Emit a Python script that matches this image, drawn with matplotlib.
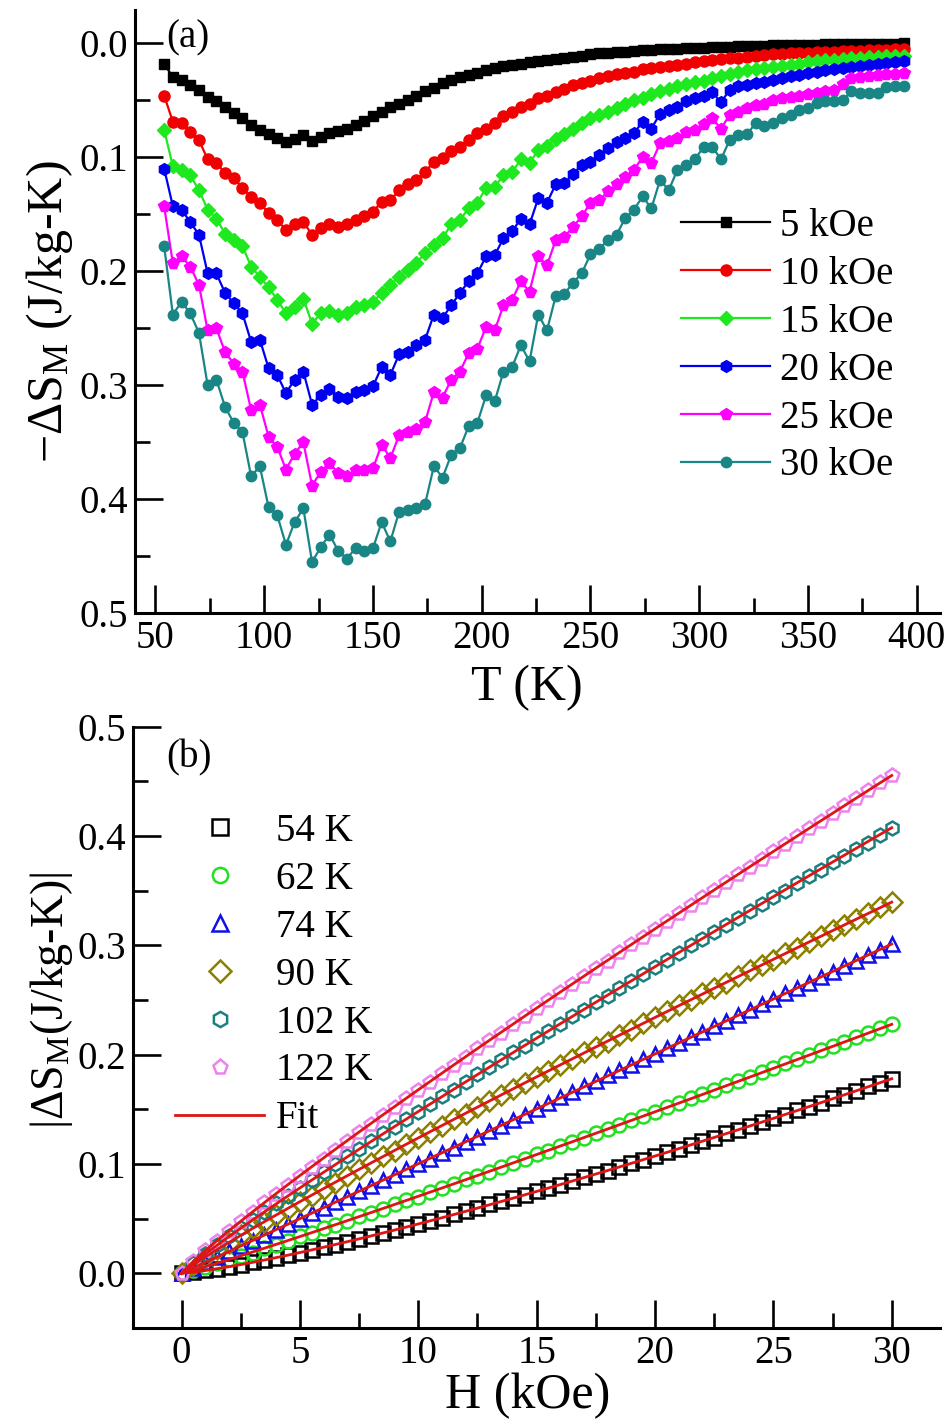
import matplotlib
matplotlib.use('Agg')
import matplotlib.pyplot as plt
import numpy as np
from matplotlib.ticker import FixedLocator, FormatStrFormatter

plt.rcParams['font.family'] = ['Liberation Serif', 'DejaVu Serif']
plt.rcParams['mathtext.default'] = 'regular'

# ---------------- Panel (a) data: -dS_M vs T ----------------
T_K = np.arange(54, 395, 4)  # 54 ... 394 K

dS_5kOe = [
    0.018, 0.030, 0.032, 0.037, 0.041, 0.047, 0.051, 0.056, 0.061, 0.066,
    0.072, 0.076, 0.080, 0.083, 0.087, 0.084, 0.081, 0.086, 0.082, 0.079,
    0.077, 0.075, 0.072, 0.068, 0.064, 0.060, 0.056, 0.053, 0.050, 0.046,
    0.042, 0.039, 0.035, 0.032, 0.030, 0.028, 0.026, 0.024, 0.022, 0.020,
    0.019, 0.018, 0.017, 0.016, 0.015, 0.014, 0.013, 0.012, 0.011, 0.010,
    0.0090, 0.0085, 0.0080, 0.0075, 0.0070, 0.0065, 0.0060, 0.0056, 0.0052, 0.0048,
    0.0045, 0.0042, 0.0040, 0.0037, 0.0034, 0.0031, 0.0029, 0.0027, 0.0025, 0.0023,
    0.0021, 0.0019, 0.0018, 0.0016, 0.0015, 0.0014, 0.0012, 0.0011, 0.0010, 0.0009,
    0.0008, 0.0007, 0.0006, 0.0005, 0.0004, 0.0003]

dS_10kOe = [
    0.046, 0.069, 0.070, 0.078, 0.085, 0.102, 0.105, 0.114, 0.118, 0.127,
    0.135, 0.140, 0.149, 0.155, 0.164, 0.159, 0.157, 0.168, 0.162, 0.159,
    0.161, 0.159, 0.155, 0.152, 0.148, 0.139, 0.138, 0.129, 0.124, 0.120,
    0.113, 0.104, 0.101, 0.095, 0.091, 0.085, 0.079, 0.075, 0.070, 0.064,
    0.060, 0.056, 0.053, 0.048, 0.046, 0.043, 0.040, 0.037, 0.035, 0.033,
    0.031, 0.029, 0.027, 0.026, 0.025, 0.023, 0.022, 0.021, 0.020, 0.019,
    0.018, 0.017, 0.016, 0.015, 0.014, 0.0135, 0.013, 0.012, 0.011, 0.0105,
    0.010, 0.0095, 0.0090, 0.0088, 0.0085, 0.0080, 0.0077, 0.0074, 0.0071, 0.0068,
    0.0066, 0.0064, 0.0061, 0.0058, 0.0055, 0.0053]

dS_15kOe = [
    0.076, 0.108, 0.111, 0.116, 0.129, 0.146, 0.154, 0.167, 0.173, 0.178,
    0.196, 0.205, 0.214, 0.225, 0.237, 0.231, 0.224, 0.246, 0.237, 0.235,
    0.238, 0.237, 0.231, 0.230, 0.227, 0.219, 0.212, 0.205, 0.199, 0.193,
    0.184, 0.177, 0.171, 0.159, 0.155, 0.145, 0.140, 0.127, 0.126, 0.116,
    0.113, 0.102, 0.105, 0.094, 0.090, 0.084, 0.080, 0.075, 0.070, 0.066,
    0.063, 0.060, 0.057, 0.053, 0.050, 0.048, 0.045, 0.042, 0.040, 0.038,
    0.036, 0.034, 0.033, 0.031, 0.029, 0.027, 0.025, 0.024, 0.023, 0.022,
    0.021, 0.020, 0.019, 0.018, 0.017, 0.016, 0.015, 0.0145, 0.014, 0.0135,
    0.013, 0.0125, 0.012, 0.0117, 0.0114, 0.011]

dS_20kOe = [
    0.110, 0.143, 0.146, 0.157, 0.168, 0.202, 0.202, 0.219, 0.228, 0.237,
    0.262, 0.260, 0.285, 0.291, 0.307, 0.295, 0.288, 0.317, 0.309, 0.303,
    0.310, 0.311, 0.306, 0.304, 0.301, 0.284, 0.291, 0.273, 0.271, 0.265,
    0.260, 0.238, 0.241, 0.230, 0.219, 0.209, 0.202, 0.187, 0.186, 0.171,
    0.165, 0.154, 0.159, 0.136, 0.140, 0.124, 0.123, 0.115, 0.107, 0.104,
    0.098, 0.092, 0.087, 0.083, 0.079, 0.069, 0.075, 0.062, 0.059, 0.056,
    0.051, 0.048, 0.046, 0.043, 0.052, 0.041, 0.038, 0.037, 0.035, 0.034,
    0.032, 0.031, 0.029, 0.028, 0.026, 0.025, 0.024, 0.023, 0.022, 0.021,
    0.020, 0.019, 0.018, 0.0175, 0.017, 0.016]

dS_25kOe = [
    0.143, 0.193, 0.187, 0.196, 0.212, 0.252, 0.250, 0.271, 0.281, 0.288,
    0.322, 0.317, 0.345, 0.354, 0.374, 0.360, 0.350, 0.388, 0.376, 0.368,
    0.377, 0.380, 0.374, 0.374, 0.373, 0.352, 0.364, 0.344, 0.341, 0.338,
    0.332, 0.306, 0.311, 0.295, 0.288, 0.272, 0.268, 0.249, 0.252, 0.230,
    0.225, 0.209, 0.218, 0.187, 0.195, 0.173, 0.170, 0.161, 0.152, 0.140,
    0.138, 0.130, 0.124, 0.117, 0.111, 0.100, 0.105, 0.088, 0.086, 0.083,
    0.078, 0.076, 0.071, 0.066, 0.075, 0.063, 0.060, 0.057, 0.054, 0.053,
    0.050, 0.048, 0.047, 0.046, 0.045, 0.044, 0.042, 0.041, 0.036, 0.031,
    0.030, 0.029, 0.028, 0.0275, 0.027, 0.026]

dS_30kOe = [
    0.178, 0.238, 0.227, 0.237, 0.254, 0.300, 0.295, 0.319, 0.333, 0.341,
    0.380, 0.371, 0.407, 0.414, 0.440, 0.420, 0.408, 0.455, 0.442, 0.431,
    0.445, 0.452, 0.443, 0.445, 0.443, 0.420, 0.437, 0.411, 0.409, 0.408,
    0.404, 0.371, 0.381, 0.361, 0.355, 0.336, 0.333, 0.309, 0.314, 0.288,
    0.284, 0.265, 0.279, 0.238, 0.252, 0.222, 0.220, 0.210, 0.202, 0.185,
    0.181, 0.1725, 0.168, 0.1535, 0.146, 0.1345, 0.145, 0.120, 0.129, 0.111,
    0.107, 0.102, 0.091, 0.091, 0.102, 0.085, 0.081, 0.080, 0.070, 0.073,
    0.070, 0.066, 0.063, 0.0585, 0.057, 0.0526, 0.0512, 0.0512, 0.0497, 0.0424,
    0.0439, 0.0439, 0.0434, 0.0386, 0.038, 0.0375]

labels_a = ['5 kOe', '10 kOe', '15 kOe', '20 kOe', '25 kOe', '30 kOe']
series_a = [dS_5kOe, dS_10kOe, dS_15kOe, dS_20kOe, dS_25kOe, dS_30kOe]
colors_a = ['#000000', '#F00000', '#1EE81E', '#0000F0', '#FF00FF', '#1A8585']
markers_a = ['s', 'o', 'D', 'h', 'p', 'o']
msizes_a = [7.5, 8, 7, 8.5, 8.5, 7.5]

# ---------------- Panel (b) data: |dS_M| vs H ----------------
H_kOe = np.linspace(0, 30, 61)

dS_54K = [0.000, 0.001, 0.003, 0.004, 0.006, 0.008, 0.010, 0.012, 0.014, 0.017,
          0.019, 0.021, 0.024, 0.026, 0.029, 0.031, 0.034, 0.037, 0.040, 0.042,
          0.045, 0.048, 0.051, 0.054, 0.057, 0.060, 0.063, 0.066, 0.069, 0.072,
          0.075, 0.078, 0.081, 0.084, 0.088, 0.091, 0.094, 0.097, 0.101, 0.104,
          0.107, 0.111, 0.114, 0.117, 0.121, 0.124, 0.128, 0.131, 0.135, 0.138,
          0.142, 0.145, 0.149, 0.152, 0.156, 0.160, 0.163, 0.167, 0.171, 0.174,
          0.178]
dS_62K = [0.000, 0.003, 0.006, 0.009, 0.013, 0.016, 0.019, 0.023, 0.026, 0.030,
          0.034, 0.037, 0.041, 0.044, 0.048, 0.052, 0.055, 0.059, 0.063, 0.067,
          0.070, 0.074, 0.078, 0.082, 0.086, 0.089, 0.093, 0.097, 0.101, 0.105,
          0.109, 0.112, 0.116, 0.120, 0.124, 0.128, 0.132, 0.136, 0.140, 0.144,
          0.148, 0.152, 0.156, 0.160, 0.164, 0.168, 0.172, 0.176, 0.180, 0.184,
          0.188, 0.192, 0.196, 0.200, 0.204, 0.208, 0.212, 0.216, 0.220, 0.224,
          0.228]
dS_74K = [0.000, 0.005, 0.010, 0.015, 0.020, 0.025, 0.030, 0.035, 0.040, 0.045,
          0.050, 0.055, 0.060, 0.065, 0.070, 0.075, 0.080, 0.085, 0.090, 0.095,
          0.100, 0.105, 0.110, 0.115, 0.120, 0.125, 0.130, 0.135, 0.140, 0.145,
          0.150, 0.156, 0.161, 0.166, 0.171, 0.176, 0.181, 0.186, 0.191, 0.196,
          0.201, 0.206, 0.211, 0.216, 0.221, 0.226, 0.231, 0.236, 0.241, 0.246,
          0.251, 0.256, 0.261, 0.266, 0.271, 0.276, 0.281, 0.286, 0.291, 0.296,
          0.301]
dS_90K = [0.000, 0.008, 0.015, 0.022, 0.028, 0.035, 0.041, 0.047, 0.053, 0.059,
          0.065, 0.071, 0.077, 0.083, 0.089, 0.095, 0.101, 0.107, 0.112, 0.118,
          0.124, 0.129, 0.135, 0.141, 0.146, 0.152, 0.158, 0.163, 0.169, 0.174,
          0.180, 0.185, 0.191, 0.196, 0.202, 0.207, 0.212, 0.218, 0.223, 0.229,
          0.234, 0.240, 0.245, 0.250, 0.256, 0.261, 0.266, 0.272, 0.277, 0.282,
          0.287, 0.293, 0.298, 0.303, 0.309, 0.314, 0.319, 0.324, 0.330, 0.335,
          0.340]
dS_102K = [0.000, 0.009, 0.018, 0.026, 0.034, 0.041, 0.049, 0.056, 0.064, 0.071,
           0.078, 0.085, 0.093, 0.100, 0.107, 0.114, 0.121, 0.128, 0.134, 0.141,
           0.148, 0.155, 0.162, 0.168, 0.175, 0.182, 0.189, 0.195, 0.202, 0.208,
           0.215, 0.222, 0.228, 0.235, 0.241, 0.248, 0.254, 0.261, 0.267, 0.274,
           0.280, 0.287, 0.293, 0.300, 0.306, 0.312, 0.319, 0.325, 0.331, 0.338,
           0.344, 0.350, 0.357, 0.363, 0.369, 0.376, 0.382, 0.388, 0.394, 0.401,
           0.407]
dS_122K = [0.000, 0.011, 0.021, 0.030, 0.039, 0.048, 0.056, 0.065, 0.073, 0.081,
           0.089, 0.097, 0.105, 0.113, 0.121, 0.129, 0.137, 0.145, 0.152, 0.160,
           0.168, 0.175, 0.183, 0.191, 0.198, 0.206, 0.213, 0.220, 0.228, 0.235,
           0.243, 0.250, 0.257, 0.265, 0.272, 0.279, 0.286, 0.294, 0.301, 0.308,
           0.315, 0.322, 0.330, 0.337, 0.344, 0.351, 0.358, 0.365, 0.372, 0.379,
           0.386, 0.393, 0.400, 0.407, 0.414, 0.421, 0.428, 0.435, 0.442, 0.449,
           0.456]

labels_b = ['54 K', '62 K', '74 K', '90 K', '102 K', '122 K']
series_b = [dS_54K, dS_62K, dS_74K, dS_90K, dS_102K, dS_122K]
colors_b = ['#000000', '#22E022', '#1010E8', '#8B8000', '#1A7F7F', '#EE82EE']
markers_b = ['s', 'o', '^', 'D', 'h', 'p']
fit_color = '#DD1515'

W, Hpx = 952, 1424
fig = plt.figure(figsize=(W / 100, Hpx / 100), dpi=100)


def setup_axes(ax):
    for s in ['top', 'right']:
        ax.spines[s].set_visible(False)
    for s in ['left', 'bottom']:
        ax.spines[s].set_linewidth(2.2)
    ax.tick_params(which='both', direction='in', width=1.9, top=False, right=False,
                   labelsize=28)
    ax.tick_params(which='major', length=20, pad=5)
    ax.tick_params(which='minor', length=11)


# ---------------- Panel (a) ----------------
ax1 = fig.add_axes([135 / W, 1 - 613.3 / Hpx, 805 / W, (613.3 - 10) / Hpx])
for y, lab, c, m, ms in zip(series_a, labels_a, colors_a, markers_a, msizes_a):
    ax1.plot(T_K, y, color=c, marker=m, ms=ms, lw=1.6, label=lab,
             markeredgecolor=c)
ax1.set_xlim(40.6, 410.7)
ax1.set_ylim(0.5, -0.029)
setup_axes(ax1)
ax1.set_xticks(np.arange(50, 401, 50))
ax1.xaxis.set_minor_locator(FixedLocator(np.arange(75, 400, 50)))
ax1.set_yticks(np.arange(0, 0.51, 0.1))
ax1.yaxis.set_minor_locator(FixedLocator(np.arange(0.05, 0.5, 0.1)))
ax1.yaxis.set_major_formatter(FormatStrFormatter('%.1f'))
ax1.set_xlabel('T (K)', fontsize=36)
ax1.xaxis.set_label_coords(0.487, -0.085)
ax1.set_ylabel('\u2212\u0394S$_M$ (J/kg-K)', fontsize=36)
ax1.yaxis.set_label_coords(-0.075, 0.5)
ax1.legend(loc='upper left', bbox_to_anchor=(681 / W, 1 - 208 / Hpx),
           bbox_transform=fig.transFigure, frameon=False, fontsize=28,
           handlelength=2.3, handletextpad=0.25, labelspacing=0.28,
           borderpad=0, borderaxespad=0)
fig.text(166 / W, 1 - 38 / Hpx, '(a)', fontsize=28, ha='left', va='center')

# ---------------- Panel (b) ----------------
ax2 = fig.add_axes([133.3 / W, 1 - 1328.3 / Hpx, (940 - 133.3) / W, (1328.3 - 726.7) / Hpx])
handles = []
for y, lab, c, m in zip(series_b, labels_b, colors_b, markers_b):
    h, = ax2.plot(H_kOe, y, linestyle='none', marker=m, ms=10, mfc='none',
                  mec=c, mew=1.8, label=lab)
    handles.append(h)
fit_h = None
for y in series_b:
    yv = np.asarray(y)
    m = (H_kOe > 0) & (yv > 0)
    n, b = np.polyfit(np.log(H_kOe[m]), np.log(yv[m]), 1)
    fit_h, = ax2.plot(H_kOe, np.exp(b) * H_kOe ** n, color=fit_color, lw=2.0,
                      label='Fit')
handles.append(fit_h)
ax2.set_xlim(-2.04, 32.04)
ax2.set_ylim(-0.0503, 0.5)
setup_axes(ax2)
ax2.set_xticks(np.arange(0, 31, 5))
ax2.xaxis.set_minor_locator(FixedLocator(np.arange(2.5, 30, 5)))
ax2.set_yticks(np.arange(0, 0.51, 0.1))
ax2.yaxis.set_minor_locator(FixedLocator(np.arange(0.05, 0.5, 0.1)))
ax2.yaxis.set_major_formatter(FormatStrFormatter('%.1f'))
ax2.set_xlabel('H (kOe)', fontsize=36)
ax2.xaxis.set_label_coords(0.489, -0.074)
ax2.set_ylabel('|\u0394S$_M$(J/kg-K)|', fontsize=33)
ax2.yaxis.set_label_coords(-0.072, 0.546)
ax2.legend(handles=handles, loc='upper left', bbox_to_anchor=(175 / W, 1 - 813 / Hpx),
           bbox_transform=fig.transFigure, frameon=False, fontsize=28,
           handlelength=2.3, handletextpad=0.3, labelspacing=0.28,
           borderpad=0, borderaxespad=0, markerscale=1.1)
fig.text(166 / W, 1 - 758 / Hpx, '(b)', fontsize=28, ha='left', va='center')

fig.savefig('out.png', dpi=100)
